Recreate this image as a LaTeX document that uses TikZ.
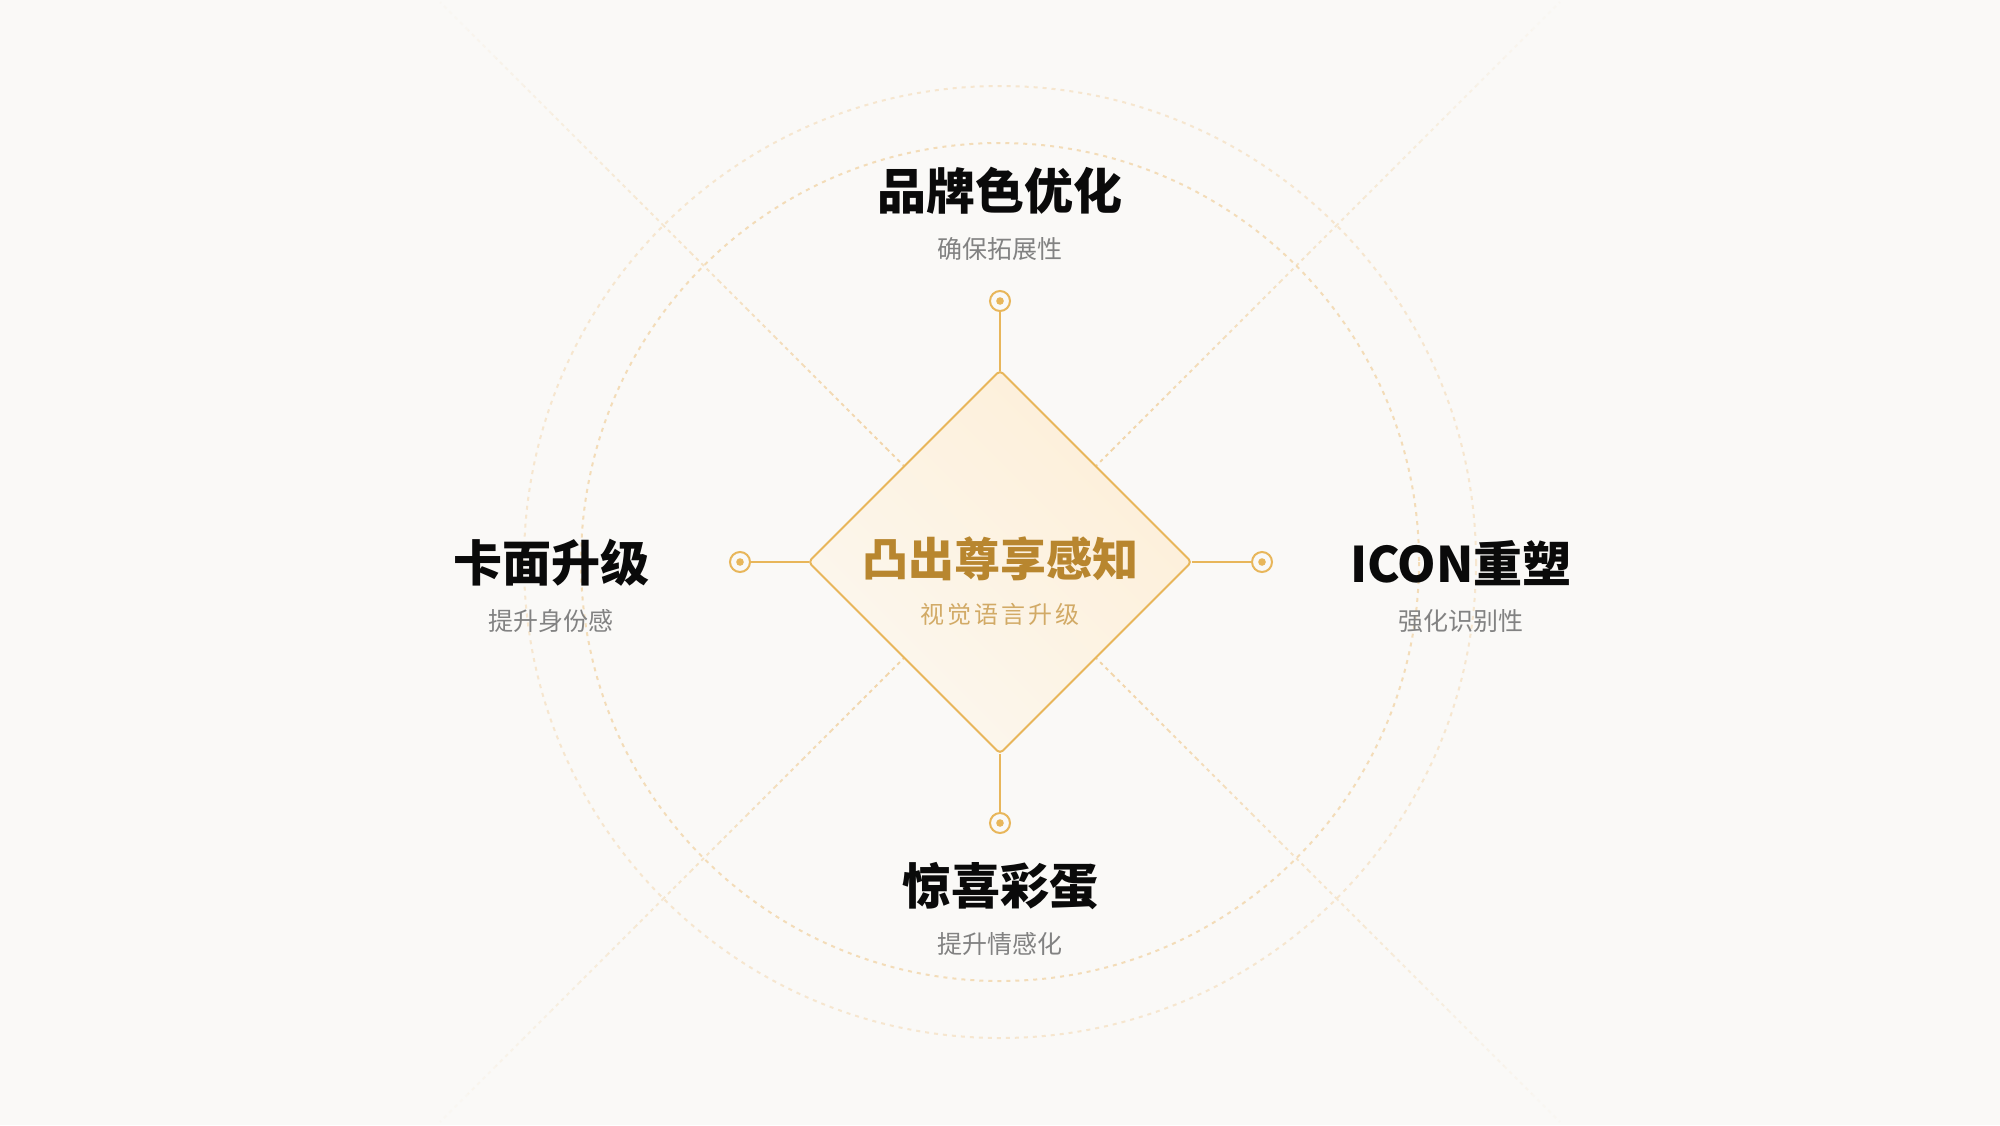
\documentclass[tikz,border=0pt]{standalone}
\usepackage{fontspec}
\newfontfamily\cjk{Noto Sans CJK SC}
\usetikzlibrary{shapes.geometric}
\definecolor{bgc}{HTML}{FAF9F7}
\definecolor{acc}{HTML}{E8B65A}
\definecolor{ringin}{HTML}{F3DCB8}
\definecolor{ringout}{HTML}{F6E6CF}
\definecolor{diagc}{HTML}{F0CC95}
\definecolor{fillA}{HTML}{FCF7EF}
\definecolor{fillB}{HTML}{FDEFD8}
\definecolor{titc}{HTML}{0A0A0A}
\definecolor{subc}{HTML}{828282}
\definecolor{ctit}{HTML}{B8862F}
\definecolor{csub}{HTML}{D2AA66}
\tikzset{
  ringA/.style={draw=ringin, line width=1pt, dash pattern=on 2pt off 2.5pt},
  ringB/.style={draw=ringout, line width=1pt, dash pattern=on 2pt off 2.5pt},
  diagline/.style={draw=diagc, line width=1pt, dash pattern=on 1.8pt off 2pt},
  core/.style={shape=diamond, aspect=1, minimum width=191.5pt, minimum height=191.5pt,
    inner sep=0pt, outer sep=0pt, draw=acc, line width=1pt, rounded corners=2pt,
    shading=axis, left color=fillA, right color=fillB, shading angle=135},
  marker/.style={circle, draw=acc, line width=1pt, fill=bgc, minimum size=10pt, inner sep=0pt,
    path picture={\fill[acc] (path picture bounding box.center) circle[radius=1.9pt];}},
  conn/.style={draw=acc, line width=1pt},
  title/.style={font=\cjk\bfseries\fontsize{24.5}{28}\selectfont, text=titc, inner sep=0pt},
  subt/.style={font=\cjk\fontsize{12.5}{15}\selectfont, text=subc, inner sep=0pt},
  ctitle/.style={font=\cjk\bfseries\fontsize{23}{26}\selectfont, text=ctit, inner sep=0pt},
  csubt/.style={font=\cjk\addfontfeatures{LetterSpace=12}\fontsize{12}{14}\selectfont, text=csub, inner sep=0pt},
}
\begin{document}
\begin{tikzpicture}[x=0.5pt,y=-0.5pt]
\fill[bgc] (0,0) rectangle (2000,1125);
\useasboundingbox (0,0) rectangle (2000,1125);
\coordinate (c) at (1000,562);
% rings
\draw[ringB] (c) circle[radius=476];
\draw[ringA] (c) circle[radius=419];
% diagonal fading lines
\foreach \sx/\sy in {1/1,1/-1,-1/1,-1/-1}{
  \foreach \k in {0,...,19}{
    \pgfmathsetmacro\op{0.95*(1-\k/20)}
    \draw[diagline, draw opacity=\op, shift={(c)}] ({\k*28*\sx},{\k*28*\sy}) -- ({(\k+1)*28*\sx},{(\k+1)*28*\sy});
  }
}
% core diamond
\node[core] (core) at (c) {};
% markers
\node[marker] (mt) at (1000,301) {};
\node[marker] (mb) at (1000,823) {};
\node[marker] (ml) at (740,562) {};
\node[marker] (mr) at (1262,562) {};
\draw[conn] (core.north) -- (mt);
\draw[conn] (core.south) -- (mb);
\draw[conn] (core.west) -- (ml);
\draw[conn] (core.east) -- (mr);
% center text
\node[ctitle] (ct) at (1000,559) {凸出尊享感知};
\node[csubt] (cs) at (1000,614) {视觉语言升级};
% labels
\node[title] (tt) at (1000,191) {品牌色优化};
\node[subt] (ts) at (1000,249) {确保拓展性};
\node[title] (lt) at (551,563) {卡面升级};
\node[subt] (ls) at (551,621) {提升身份感};
\node[title] (rt) at (1461,563) {ICON重塑};
\node[subt] (rs) at (1461,621) {强化识别性};
\node[title] (bt) at (1000,886) {惊喜彩蛋};
\node[subt] (bs) at (1000,944) {提升情感化};
\end{tikzpicture}
\end{document}
